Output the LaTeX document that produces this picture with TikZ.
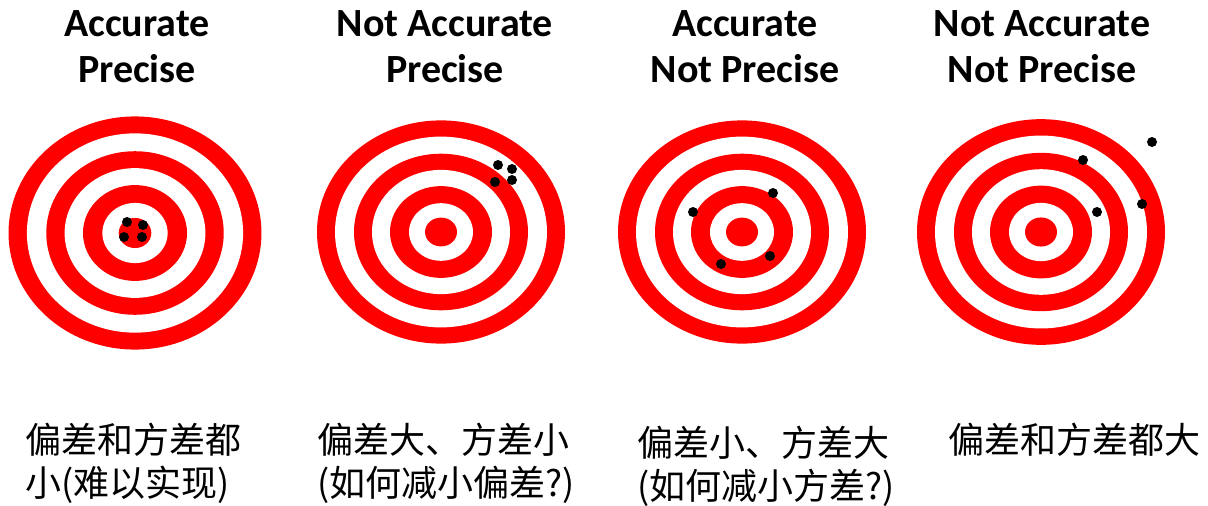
\documentclass[tikz,border=0pt]{standalone}
\usepackage{fontspec}
\newfontfamily\titlefont{Carlito}
\newfontfamily\cjk{Noto Sans CJK SC}
\definecolor{targetred}{RGB}{255,0,0}
\tikzset{
  title/.style={font=\titlefont\bfseries\fontsize{40}{46}\selectfont, align=center, inner sep=0pt, anchor=base},
  note/.style={font=\cjk\fontsize{36}{43}\selectfont, align=left, inner sep=0pt, anchor=base west},
  hit/.style={fill=black}
}
% one target: centre x, centre y, x scale, y scale
\newcommand{\drawtarget}[4]{%
  \begin{scope}[shift={(#1,#2)}, xscale=#3, yscale=#4]
    \fill[targetred] (0,0) circle (124);
    \fill[white] (0,0) circle (106);
    \fill[targetred] (0,0) circle (87);
    \fill[white] (0,0) circle (69);
    \fill[targetred] (0,0) circle (51);
    \fill[white] (0,0) circle (32);
    \fill[targetred] (0,0) circle (16);
  \end{scope}}
\begin{document}
\begin{tikzpicture}[x=1pt, y=-1pt]
\useasboundingbox (0,0) rectangle (1208,506);
% titles (base = last line)
\node[title] (t1) at (137,82) {Accurate\\Precise};
\node[title] (t2) at (445,82) {Not Accurate\\Precise};
\node[title] (t3) at (745,82) {Accurate\\Not Precise};
\node[title] (t4) at (1042,82) {Not Accurate\\Not Precise};
% targets
\drawtarget{135}{233}{1.02}{0.94}
\drawtarget{441}{232}{1.0}{0.90}
\drawtarget{742}{232}{1.0}{0.90}
\drawtarget{1041}{232}{1.0}{0.91}
% hits
\foreach \p in {(127,222),(143,225),(124,237),(142,237)} \fill[hit] \p circle (5);
\foreach \p in {(498,165),(512,169),(495,182),(512,180)} \fill[hit] \p circle (5);
\foreach \p in {(773,193),(693,212),(721,264),(770,256)} \fill[hit] \p circle (5);
\foreach \p in {(1152,142),(1083,160),(1142,204),(1097,212)} \fill[hit] \p circle (5);
% captions (base = last line)
\node[note] (c1) at (25,496) {偏差和方差都\\小(难以实现)};
\node[note] (c2) at (317,496) {偏差大、方差小\\(如何减小偏差?)};
\node[note] (c3) at (637,499) {偏差小、方差大\\(如何减小方差?)};
\node[note] (c4) at (948,453) {偏差和方差都大};
\end{tikzpicture}
\end{document}
